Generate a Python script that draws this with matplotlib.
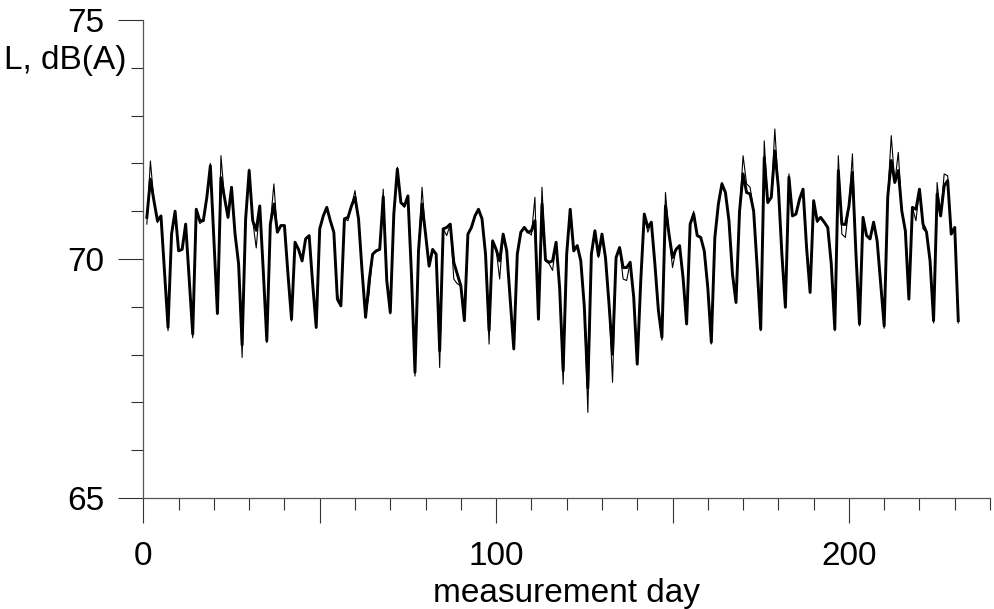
import numpy as np
import matplotlib
matplotlib.use("Agg")
import matplotlib.pyplot as plt
from matplotlib.ticker import MultipleLocator, FuncFormatter

plt.rcParams['font.family'] = ['Liberation Sans', 'DejaVu Sans']

# measurement days 1..231
days = list(range(1, 232))

# thick line
level_a = [
    70.87, 71.67, 71.22, 70.80, 70.90, 69.74, 68.57, 70.52, 71.00, 70.17,
    70.20, 70.73, 69.58, 68.43, 71.04, 70.80, 70.80, 71.29, 71.95, 70.40,
    68.86, 71.70, 71.29, 70.87, 71.50, 70.52, 69.90, 68.20, 70.84, 71.85,
    70.80, 70.60, 71.11, 69.75, 68.29, 70.73, 71.15, 70.56, 70.70, 70.70,
    69.68, 68.74, 70.35, 70.20, 69.96, 70.42, 70.49, 69.48, 68.57, 70.63,
    70.90, 71.08, 70.80, 70.56, 69.16, 69.02, 70.84, 70.87, 71.11, 71.29,
    70.84, 69.75, 68.78, 69.55, 70.10, 70.17, 70.20, 71.30, 69.55, 68.88,
    70.94, 71.88, 71.18, 71.11, 71.32, 69.68, 67.63, 70.17, 71.15, 70.52,
    69.85, 70.20, 70.10, 68.08, 70.63, 70.66, 70.73, 69.93, 69.68, 69.44,
    68.71, 70.52, 70.66, 70.90, 71.04, 70.84, 70.10, 68.50, 70.38, 70.20,
    69.96, 70.52, 70.17, 69.13, 68.12, 70.10, 70.56, 70.66, 70.56, 70.59,
    70.80, 68.74, 71.15, 69.98, 69.93, 69.96, 70.35, 69.40, 67.66, 70.10,
    71.04, 70.17, 70.28, 69.96, 69.00, 67.30, 70.10, 70.59, 70.07, 70.52,
    70.03, 69.06, 68.01, 70.03, 70.24, 69.82, 69.82, 69.93, 69.20, 67.80,
    69.55, 70.94, 70.66, 70.77, 69.90, 68.92, 68.36, 71.11, 70.52, 70.03,
    70.20, 70.28, 69.60, 68.64, 70.73, 70.94, 70.49, 70.45, 70.17, 69.40,
    68.26, 70.45, 71.15, 71.57, 71.39, 70.80, 69.68, 69.09, 71.00, 71.78,
    71.39, 71.36, 71.00, 69.82, 68.53, 72.12, 71.18, 71.29, 72.26, 71.50,
    70.10, 68.99, 71.71, 70.90, 70.94, 71.25, 71.46, 70.24, 69.30, 71.22,
    70.80, 70.87, 70.77, 70.66, 69.90, 68.53, 71.85, 70.73, 70.72, 71.10,
    71.81, 70.10, 68.64, 70.87, 70.49, 70.42, 70.77, 70.38, 69.48, 68.60,
    71.29, 72.06, 71.60, 71.85, 71.00, 70.59, 69.16, 71.08, 71.04, 71.46,
    70.73, 70.56, 69.96, 68.71, 71.36, 70.90, 71.53, 71.64, 70.52, 70.66,
    68.71,
]

# thin line
level_b = [
    70.73, 72.05, 71.22, 70.76, 70.90, 69.72, 68.50, 70.52, 71.00, 70.17,
    70.20, 70.73, 69.55, 68.35, 71.04, 70.74, 70.80, 71.29, 72.00, 70.40,
    68.84, 72.16, 71.29, 70.87, 71.50, 70.52, 69.90, 67.94, 70.84, 71.88,
    70.80, 70.23, 71.11, 69.75, 68.25, 70.73, 71.57, 70.56, 70.70, 70.70,
    69.68, 68.70, 70.35, 70.20, 69.96, 70.42, 70.49, 69.48, 68.55, 70.63,
    70.90, 71.08, 70.80, 70.56, 69.25, 69.02, 70.84, 70.80, 71.11, 71.43,
    70.84, 69.75, 68.80, 69.27, 70.10, 70.17, 70.20, 71.46, 69.50, 68.85,
    70.94, 71.92, 71.18, 71.08, 71.32, 69.68, 67.55, 70.17, 71.50, 70.52,
    69.85, 70.20, 70.10, 67.73, 70.63, 70.49, 70.73, 69.58, 69.48, 69.44,
    68.71, 70.49, 70.66, 70.90, 71.04, 70.84, 70.10, 68.22, 70.38, 70.20,
    69.58, 70.52, 70.17, 69.13, 68.10, 70.10, 70.56, 70.66, 70.56, 70.50,
    71.29, 68.74, 71.50, 69.96, 69.90, 69.76, 70.35, 69.40, 67.38, 70.10,
    71.04, 70.17, 70.28, 69.96, 69.00, 66.79, 70.10, 70.59, 70.03, 70.52,
    70.03, 69.06, 67.42, 70.03, 70.24, 69.58, 69.55, 69.93, 69.20, 67.80,
    69.55, 70.94, 70.56, 70.77, 69.90, 68.92, 68.30, 71.39, 70.52, 69.82,
    70.20, 70.28, 69.60, 68.64, 70.73, 71.00, 70.49, 70.45, 70.17, 69.40,
    68.22, 70.45, 71.15, 71.60, 71.39, 70.80, 69.68, 69.09, 71.00, 72.16,
    71.57, 71.50, 71.00, 69.82, 68.50, 72.47, 71.18, 71.29, 72.72, 71.50,
    70.10, 68.99, 71.78, 70.90, 70.94, 71.25, 71.46, 70.24, 69.30, 71.22,
    70.76, 70.87, 70.77, 70.66, 69.90, 68.50, 72.16, 70.52, 70.45, 71.10,
    72.20, 70.10, 68.60, 70.87, 70.49, 70.42, 70.77, 70.38, 69.48, 68.55,
    71.29, 72.58, 71.60, 72.23, 71.00, 70.59, 69.16, 71.08, 70.80, 71.46,
    70.63, 70.56, 69.96, 68.66, 71.60, 70.90, 71.78, 71.74, 70.52, 70.66,
    68.66,
]

fig = plt.figure(figsize=(9.94, 6.09), dpi=100)
ax = fig.add_axes([0.1442, 0.1823, 0.8518, 0.7849])

ax.plot(days, level_b, color='black', lw=0.8)
ax.plot(days, level_a, color='black', lw=2.1)

ax.set_xlim(0, 240)
ax.set_ylim(65, 75)

ax.spines['top'].set_visible(False)
ax.spines['right'].set_visible(False)
for s in ('left', 'bottom'):
    ax.spines[s].set_color('#555555')
    ax.spines[s].set_linewidth(0.9)

ax.xaxis.set_major_locator(MultipleLocator(50))
ax.xaxis.set_minor_locator(MultipleLocator(10))
ax.xaxis.set_major_formatter(FuncFormatter(lambda v, p: f"{int(v)}" if v % 100 == 0 else ""))
ax.yaxis.set_major_locator(MultipleLocator(5))
ax.yaxis.set_minor_locator(MultipleLocator(1))

ax.tick_params(which='major', direction='out', length=18, width=0.8, color='#333333',
               labelsize=24)
ax.tick_params(which='minor', direction='out', length=8.5, width=0.8, color='#333333')
ax.tick_params(axis='x', which='major', pad=13)
ax.tick_params(axis='y', which='major', pad=10)

ax.set_xlabel("measurement day", fontsize=24, labelpad=4)
fig.text(127 / 994, 1 - 60 / 609, "L, dB(A)", fontsize=24, ha='right', va='center')

fig.savefig("out.png", dpi=100)
